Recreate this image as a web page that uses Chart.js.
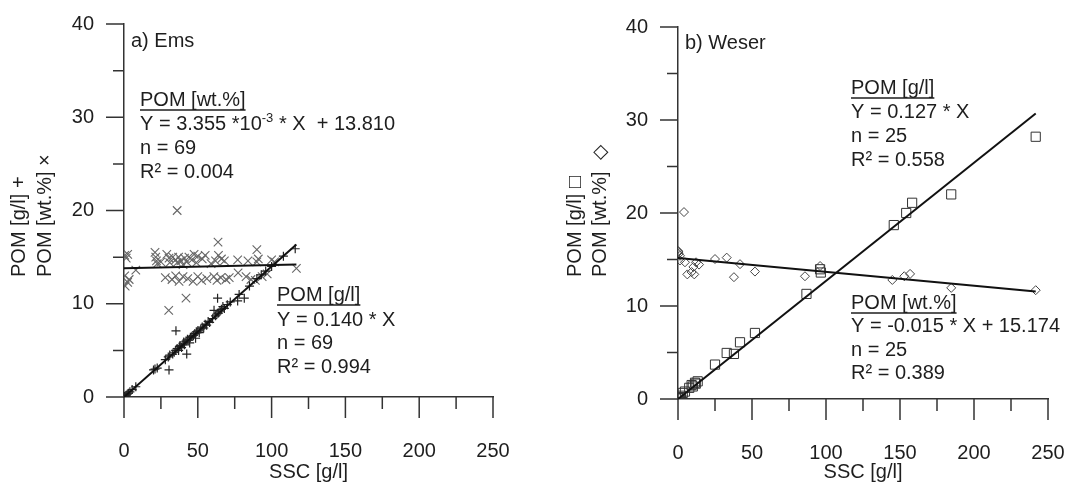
<!DOCTYPE html>
<html>
<head>
<meta charset="utf-8">
<script src="https://cdn.jsdelivr.net/npm/chart.js@4.4.1/dist/chart.umd.min.js"></script>
<style>
body{margin:0;background:#fff;}
#wrap{display:flex;width:1080px;height:484px;}
canvas{display:block;}
</style>
</head>
<body>
<div id="wrap">
<canvas id="ems" width="540" height="484"></canvas>
<canvas id="weser" width="540" height="484"></canvas>
</div>
<script>
// tick values
const xMajor = [0, 50, 100, 150, 200, 250]
const xMinor = [25, 75, 125, 175, 225]
const yMajor = [0, 10, 20, 30, 40]
const yMinor = [5, 15, 25, 35]

// a) Ems - POM [wt.%] (x marks)
const emsPctX = [0.5,1.5,0.5,2.5,0.8,3.5,8,2.5,
  21,21.5,22,22.5,25,29,30.5,31,33,35,36,37,38.5,40,41,42.5,44,46,47.5,49,50,53,55,59,62,64,66,68,77,84,90,91,100,102,
  36,63.7,90,116.8,42,30.3,
  28,32.5,35,37.3,40,43.2,46.8,50,52.6,56.1,60.9,63,65.6,69.1,71.3,77.3,82.7,86,89,93.6,97]
const emsPctY = [15.2,14.9,13.0,12.3,11.9,12.6,13.6,15.3,
  15.5,15.0,14.6,14.3,14.5,15.3,14.9,14.4,15.0,14.7,14.4,15.0,14.6,14.2,14.9,14.5,15.0,14.7,15.3,14.4,15.1,14.8,15.2,14.3,14.6,15.2,14.8,14.6,14.7,14.6,14.5,14.8,14.7,14.5,
  20.0,16.6,15.8,13.8,10.6,9.3,
  12.8,12.6,13.0,12.4,12.9,12.7,12.4,12.9,12.5,12.7,12.9,12.5,12.8,12.6,12.8,13.3,12.9,12.6,12.5,12.9,13.2]

// a) Ems - POM [g/l] (+ marks)
const emsGlX = [0.3,0.8,1.5,2.2,3,4,5.5,8,
  20,21,22.5,30.5,28,30,31,33,34,35,35.2,36,37,37.5,38,39,40,40.5,41,42,42.5,43,44,44.5,45,46,47,48,48.5,49,50,51,52,53,54,55,56,57,58,60,61,62,63,63.4,64,65,66,67,68,70,72,77,78,81.5,85,90,93,96,100,108,116]
const emsGlY = [0.05,0.1,0.2,0.3,0.4,0.55,0.8,1.1,
  2.9,3.0,3.1,2.9,4.0,4.3,4.5,4.6,4.8,5.0,7.1,5.2,5.0,5.4,5.5,5.3,5.7,5.9,5.6,6.0,4.6,6.2,6.1,5.8,6.4,6.5,6.6,6.8,6.3,7.0,7.1,6.9,7.3,7.5,7.4,7.8,7.7,8.1,8.0,8.4,9.3,8.7,8.9,10.6,9.0,9.2,9.4,9.7,9.5,9.9,10.2,10.3,11.0,10.6,11.9,12.7,13.1,13.5,14.0,15.1,15.9]

// a) Ems - fit lines
const emsPctFitX = [0, 116.8]
const emsPctFitY = [13.81, 14.20]
const emsGlFitX = [0, 116.8]
const emsGlFitY = [0, 16.35]

// b) Weser - POM [g/l] (squares)
const weserGlX = [241.7,184.6,158.2,154.2,145.8,96,96.5,86.8,52,41.9,37.8,32.9,25,13.3,12,11.5,10,9.2,7.6,4.7,3.2,2,1.35,0.5,0.2]
const weserGlY = [28.2,22.0,21.1,20.0,18.7,13.95,13.6,11.3,7.1,6.1,4.85,4.95,3.7,1.9,1.65,1.75,1.35,1.5,1.2,0.8,0.65,0.35,0.2,0.1,0.05]

// b) Weser - POM [wt.%] (diamonds)
const weserPctX = [241.7,184.6,156.8,152.9,144.8,96,85.8,52,41.9,37.8,32.9,25,14.2,12.2,11,10.4,9.2,6.3,4.7,4.05,1.35,1.35,0.5,0.3,0.2]
const weserPctY = [11.7,11.95,13.45,13.2,12.8,14.3,13.2,13.7,14.5,13.1,15.2,15.05,14.45,14.7,13.4,14.2,13.65,13.4,14.7,20.1,14.9,15.4,15.6,15.8,15.9]

// b) Weser - fit lines
const weserGlFitX = [0, 241.7]
const weserGlFitY = [0, 30.7]
const weserPctFitX = [0, 241.7]
const weserPctFitY = [15.17, 11.55]

const FONT = '"Liberation Sans", Arial, sans-serif'
const TXT = '#1e1e1e'
const AXIS = '#333'

function pts(xs, ys) {
  return xs.map((x, i) => ({x: x, y: ys[i]}))
}

// ticks outside the axes, long for major and short for minor
const tickMarks = {
  id: 'tickMarks',
  afterDraw(chart) {
    const ctx = chart.ctx
    const xs = chart.scales.x, ys = chart.scales.y
    const a = chart.chartArea
    ctx.save()
    ctx.strokeStyle = AXIS
    ctx.lineWidth = 1.5
    ctx.beginPath()
    xMajor.forEach(v => { const p = xs.getPixelForValue(v); ctx.moveTo(p, a.bottom); ctx.lineTo(p, a.bottom + 21) })
    xMinor.forEach(v => { const p = xs.getPixelForValue(v); ctx.moveTo(p, a.bottom); ctx.lineTo(p, a.bottom + 12) })
    yMajor.forEach(v => { const p = ys.getPixelForValue(v); ctx.moveTo(a.left, p); ctx.lineTo(a.left - 18, p) })
    yMinor.forEach(v => { const p = ys.getPixelForValue(v); ctx.moveTo(a.left, p); ctx.lineTo(a.left - 11, p) })
    ctx.stroke()
    ctx.restore()
  }
}

// free text: panel label, regression notes, rotated y title
const notes = {
  id: 'notes',
  afterDraw(chart, args, opts) {
    const ctx = chart.ctx
    ctx.save()
    ctx.fillStyle = TXT
    ctx.strokeStyle = TXT
    ctx.textBaseline = 'middle'
    ctx.textAlign = 'left'
    opts.items.forEach(it => {
      let x = it.x
      it.parts.forEach(p => {
        if (p.sup) {
          ctx.font = '13px ' + FONT
          ctx.fillText(p.t, x, it.y - 6)
        } else {
          ctx.font = '20px ' + FONT
          ctx.fillText(p.t, x, it.y)
        }
        x += ctx.measureText(p.t).width
      })
      if (it.under) {
        ctx.lineWidth = 1.3
        ctx.beginPath()
        ctx.moveTo(it.x, it.y + 10)
        ctx.lineTo(x, it.y + 10)
        ctx.stroke()
      }
    })
    ctx.font = '20px ' + FONT
    opts.title.forEach(t => {
      ctx.save()
      ctx.translate(t.x, t.y)
      ctx.rotate(-Math.PI / 2)
      ctx.fillText(t.text, 0, 0)
      ctx.restore()
    })
    ctx.restore()
  }
}

function makePanel(id, datasets, box, items, title) {
  return new Chart(document.getElementById(id), {
    type: 'scatter',
    data: {datasets: datasets},
    options: {
      responsive: false,
      animation: false,
      events: [],
      layout: {padding: {left: 0, top: box.top, right: box.right, bottom: 0}},
      plugins: {
        legend: {display: false},
        tooltip: {enabled: false},
        notes: {items: items, title: title}
      },
      scales: {
        x: {
          type: 'linear', min: 0, max: 250,
          afterBuildTicks: s => { s.ticks = xMajor.map(v => ({value: v})) },
          grid: {display: false, drawTicks: false},
          border: {display: true, color: AXIS, width: 1.5},
          ticks: {color: TXT, font: {family: FONT, size: 20}, padding: 42, maxRotation: 0},
          title: {display: true, text: 'SSC [g/l]', color: TXT, font: {family: FONT, size: 20}, padding: 0},
          afterFit: s => { s.height = box.xh; s.paddingLeft = 0; s.paddingRight = 0 }
        },
        y: {
          type: 'linear', min: 0, max: 40,
          afterBuildTicks: s => { s.ticks = yMajor.map(v => ({value: v})) },
          grid: {display: false, drawTicks: false},
          border: {display: true, color: AXIS, width: 1.5},
          ticks: {color: TXT, font: {family: FONT, size: 20}, padding: 30},
          afterFit: s => { s.width = box.left; s.paddingTop = 0; s.paddingBottom = 0 }
        }
      }
    },
    plugins: [tickMarks, notes]
  })
}

function fitLine(xs, ys) {
  return {type: 'line', data: pts(xs, ys), showLine: true, borderColor: '#111', borderWidth: 2, pointRadius: 0, fill: false}
}

makePanel('ems', [
  fitLine(emsPctFitX, emsPctFitY),
  fitLine(emsGlFitX, emsGlFitY),
  {label: 'POM [g/l]', data: pts(emsGlX, emsGlY), pointStyle: 'cross', pointRadius: 4.5, borderColor: '#222', borderWidth: 1.2},
  {label: 'POM [wt.%]', data: pts(emsPctX, emsPctY), pointStyle: 'crossRot', pointRadius: 6, borderColor: '#666', borderWidth: 1.1}
], {top: 24, right: 47, left: 124, xh: 87}, [
  {x: 131, y: 41, parts: [{t: 'a) Ems'}]},
  {x: 140, y: 100, under: true, parts: [{t: 'POM [wt.%]'}]},
  {x: 140, y: 124, parts: [{t: 'Y = 3.355 *10'}, {t: '-3', sup: true}, {t: ' * X  + 13.810'}]},
  {x: 140, y: 148, parts: [{t: 'n = 69'}]},
  {x: 140, y: 172, parts: [{t: 'R² = 0.004'}]},
  {x: 277, y: 295, under: true, parts: [{t: 'POM [g/l]'}]},
  {x: 277, y: 320, parts: [{t: 'Y = 0.140 * X'}]},
  {x: 277, y: 343, parts: [{t: 'n = 69'}]},
  {x: 277, y: 367, parts: [{t: 'R² = 0.994'}]}
], [
  {x: 19, y: 277, text: 'POM [g/l] +'},
  {x: 45, y: 277, text: 'POM [wt.%] ×'}
])

makePanel('weser', [
  fitLine(weserPctFitX, weserPctFitY),
  fitLine(weserGlFitX, weserGlFitY),
  {label: 'POM [g/l]', data: pts(weserGlX, weserGlY), pointStyle: 'rect', pointRadius: 6.5, borderColor: '#333', borderWidth: 1, backgroundColor: 'rgba(0,0,0,0)'},
  {label: 'POM [wt.%]', data: pts(weserPctX, weserPctY), pointStyle: 'rectRot', pointRadius: 4.5, borderColor: '#444', borderWidth: 1, backgroundColor: 'rgba(0,0,0,0)'}
], {top: 27, right: 32, left: 138, xh: 85}, [
  {x: 145, y: 43, parts: [{t: 'b) Weser'}]},
  {x: 311, y: 88, under: true, parts: [{t: 'POM [g/l]'}]},
  {x: 311, y: 112, parts: [{t: 'Y = 0.127 * X'}]},
  {x: 311, y: 136, parts: [{t: 'n = 25'}]},
  {x: 311, y: 160, parts: [{t: 'R² = 0.558'}]},
  {x: 311, y: 303, under: true, parts: [{t: 'POM [wt.%]'}]},
  {x: 311, y: 326, parts: [{t: 'Y = -0.015 * X + 15.174'}]},
  {x: 311, y: 350, parts: [{t: 'n = 25'}]},
  {x: 311, y: 373, parts: [{t: 'R² = 0.389'}]}
], [
  {x: 35, y: 277, text: 'POM [g/l] □'},
  {x: 60, y: 277, text: 'POM [wt.%]  ◇'}
])
</script>
</body>
</html>
